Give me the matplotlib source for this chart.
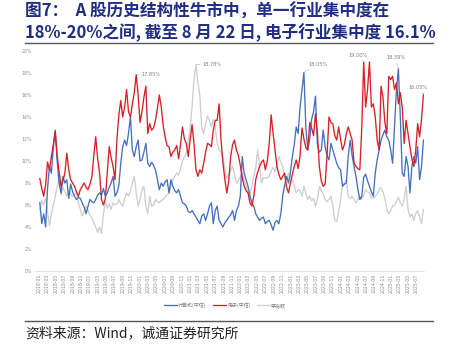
import matplotlib
matplotlib.use("Agg")
import matplotlib.pyplot as plt
import pandas as pd
import numpy as np

CJK = ['Noto Sans CJK SC', 'DejaVu Sans']

# biweekly observations, 2018-01-05 .. 2025-08-22
dates = pd.date_range(end='2025-08-22', periods=200, freq='2W-FRI')

computer = [
    6.2, 4.3, 5.2, 4.0, 7.5, 9.5, 8.9, 11.2, 12.8, 10.0,
    8.0, 7.1, 8.6, 8.0, 8.3, 6.6, 7.9, 7.2, 6.8, 6.5,
    6.7, 6.6, 6.2, 5.8, 5.2, 5.9, 6.5, 6.3, 6.2, 6.5,
    6.9, 7.1, 6.9, 7.5, 6.8, 7.1, 7.6, 8.0, 8.6, 6.8,
    7.1, 7.8, 9.8, 11.3, 11.9, 11.4, 12.5, 14.0, 11.0, 10.4,
    11.3, 11.9, 10.0, 10.1, 10.8, 11.6, 9.8,
    9.5, 9.9, 9.6, 9.2, 8.3, 7.4, 8.0, 7.7, 8.1, 8.3,
    7.1, 8.3, 7.7, 7.3, 7.1, 7.4, 6.8, 6.2, 6.1, 5.9,
    5.4, 5.3, 5.5, 5.2, 4.9, 4.6, 4.3, 5.0, 5.2, 4.6,
    5.2, 5.9, 6.2, 4.3, 5.5, 5.9, 4.6, 4.3, 4.0, 4.4,
    4.6, 4.9, 5.1, 5.5, 4.6, 5.5, 5.9, 6.8, 10.4, 8.9,
    8.3, 7.7, 6.8, 6.2, 5.9, 5.2, 4.9, 4.6, 4.8, 4.9,
    4.3, 4.5, 4.6, 4.2, 3.7, 4.4, 4.6, 4.3, 5.2, 6.8,
    7.8, 8.6, 8.0, 9.0, 10.4, 11.5, 13.1, 12.5,
    14.9, 16.5, 18.05, 13.0, 11.0, 12.0, 13.8, 14.5, 15.9, 11.5,
    10.8, 11.0, 12.8, 11.3, 10.5, 10.1, 11.6, 11.0, 10.4, 9.8,
    9.4, 9.2, 7.7, 7.9, 8.0, 10.5, 11.9, 10.5, 9.5, 8.6,
    7.4, 6.5, 6.8, 8.5, 8.8, 8.2, 7.7, 7.2, 6.8, 8.9,
    10.1, 11.0, 11.9, 12.4, 12.8, 12.2, 11.9, 11.0, 9.8, 13.1,
    16.5, 18.39, 14.0, 8.9, 8.6, 10.4, 9.5, 7.1, 9.5, 10.4,
    9.8, 11.3, 8.3, 9.5, 11.9,
]

electronics = [
    8.4, 7.5, 6.8, 7.8, 9.9, 9.2, 10.4, 11.5, 12.7, 10.5,
    9.0, 7.7, 8.2, 8.9, 10.7, 9.2, 8.3, 8.0, 7.7, 7.2,
    6.8, 7.4, 7.7, 8.0, 7.6, 7.4, 7.9, 8.5, 10.5, 12.2,
    10.2, 8.9, 6.5, 6.0, 6.6, 9.0, 11.3, 10.3, 9.5, 8.3,
    12.0, 14.2, 15.5, 14.0, 14.9, 16.5, 14.5, 14.0, 15.2, 16.2,
    17.85, 16.0, 13.5, 14.5, 15.8, 16.8, 12.5,
    13.4, 12.8, 13.0, 13.7, 14.8, 16.0, 14.9, 13.2, 12.2, 11.4,
    11.3, 10.4, 10.8, 11.0, 11.4, 10.2, 11.5, 13.1, 12.0, 11.6,
    10.4, 12.0, 13.3, 11.5, 9.2, 8.6, 9.2, 8.9, 9.8, 10.8,
    11.6, 11.5, 11.3, 12.8, 13.7, 13.7, 15.2, 11.9, 9.8, 8.3,
    7.1, 8.2, 10.4, 11.5, 11.9, 11.0, 10.5, 9.6, 8.5, 7.7,
    7.3, 7.1, 6.2, 5.9, 6.8, 8.3, 9.0, 9.5, 9.9, 10.1,
    9.2, 10.0, 11.6, 14.2, 12.5, 11.0, 9.5, 8.8, 8.3, 8.6,
    8.9, 7.6, 7.1, 8.0, 8.8, 9.5, 10.1, 9.3,
    10.5, 13.0, 12.0, 11.2, 11.0, 13.5, 13.0, 12.3, 14.3, 12.5,
    9.5, 8.2, 7.7, 7.9, 10.5, 14.0, 13.5, 13.4, 12.3, 11.9,
    13.1, 12.0, 11.0, 11.5, 12.5, 13.1, 12.5, 11.9, 9.8, 9.5,
    9.3, 9.2, 13.0, 19.0, 14.9, 16.5, 19.0, 14.9, 15.2, 14.0,
    11.9, 11.0, 16.8, 15.8, 13.5, 12.5, 17.7, 17.4, 17.7, 16.5,
    17.1, 15.2, 16.2, 14.9, 11.6, 13.7, 12.5, 11.3, 10.2, 9.5,
    11.0, 13.4, 12.2, 13.8, 16.05,
]

maotai = [
    5.5, 6.4, 6.0, 6.6, 5.4, 4.1, 5.2, 6.0, 6.8, 7.6,
    8.3, 6.9, 7.6, 7.2, 6.8, 7.3, 7.0, 6.8, 7.0, 7.1,
    6.2, 5.6, 5.0, 5.4, 5.9, 5.5, 5.1, 4.8, 4.4, 4.0,
    3.5, 4.0, 3.4, 5.2, 6.3, 5.7, 6.1, 5.6, 6.2, 6.0,
    6.1, 6.5, 6.1, 5.9, 6.6, 7.1, 6.8, 7.3, 8.0, 8.6,
    7.1, 5.9, 6.5, 7.4, 7.7, 5.9, 5.2,
    6.8, 5.9, 6.0, 6.5, 6.3, 6.2, 6.4, 6.5, 6.7, 6.9,
    7.1, 7.6, 8.3, 8.6, 8.9, 8.7, 9.3, 10.0, 10.4, 10.7,
    11.7, 13.0, 15.0, 17.5, 18.78, 17.1, 16.0, 13.0, 12.5, 13.4,
    14.1, 13.7, 13.1, 13.8, 13.0, 11.7, 11.0, 10.8, 10.4, 9.3,
    8.4, 8.8, 9.1, 9.5, 8.8, 8.0, 8.2, 8.6, 8.9, 8.3,
    7.7, 7.2, 6.9, 7.8, 8.6, 9.4, 11.0, 9.5, 8.0, 8.5,
    8.4, 8.5, 8.6, 9.1, 9.4, 9.0, 9.6, 10.4, 9.9, 9.5,
    8.5, 8.3, 8.9, 8.6, 8.3, 7.7, 7.1, 7.4,
    7.3, 6.8, 7.7, 7.1, 6.5, 6.8, 6.4, 6.6, 5.9, 6.5,
    7.7, 7.3, 7.0, 6.5, 6.3, 6.5, 6.8, 5.9, 4.6, 4.5,
    5.4, 6.5, 7.7, 8.0, 8.3, 6.8, 6.6, 6.8, 6.5, 6.2,
    6.5, 6.8, 6.5, 6.9, 7.4, 7.2, 7.1, 6.7, 6.6, 6.8,
    7.0, 7.4, 7.6, 7.2, 6.6, 5.6, 5.2, 5.5, 5.9, 6.0,
    6.3, 6.7, 6.2, 5.9, 6.5, 7.7, 5.6, 4.9, 5.2, 4.6,
    5.2, 5.5, 4.9, 4.3, 5.6,
]

series_names = ['计算机(中信)', '电子(中信)', '茅指数']
series_colors = ['#4470c0', '#d61f26', '#cfcfcf']

# (series index, observation index) of labelled points
labelled = [(1, 50), (2, 81), (0, 137), (1, 168), (0, 186), (1, 199)]
label_offsets = [(4, 0), (5, 0), (3, 6), (-4, 5), (-2, 8), (-4, 5)]

fig = plt.figure(figsize=(4.5, 3.48), dpi=100)
ax = fig.add_axes([35 / 450, 1 - 271 / 348, 389 / 450, 220 / 348])

all_series = [computer, electronics, maotai]
for vals, name, col in zip(all_series, series_names, series_colors):
    ax.plot(dates, np.array(vals) / 100, color=col, lw=0.95, label=name,
            zorder=3 if col != '#cfcfcf' else 2)

for (si, oi), off in zip(labelled, label_offsets):
    v = all_series[si][oi]
    ax.annotate(f'{v:.2f}%', xy=(dates[oi], v / 100), xytext=off,
                textcoords='offset points', fontsize=3.6, color='#7f7f7f',
                ha='left' if off[0] > 0 else 'center', va='center',
                arrowprops=dict(arrowstyle='-', color='#a0a0a0', lw=0.3,
                                shrinkA=0, shrinkB=0))

ax.set_ylim(0, 0.20)
ax.set_yticks(np.arange(0, 0.201, 0.02))
ax.set_yticklabels([f'{int(round(t * 100))}%' for t in np.arange(0, 0.201, 0.02)])
ax.set_xlim(pd.Timestamp('2017-12-01'), pd.Timestamp('2025-08-26'))
ticks = pd.date_range('2018-01-01', '2025-07-01', freq='2MS')
ax.set_xticks(ticks)
ax.set_xticklabels([t.strftime('%Y-%m') for t in ticks], rotation=90)
ax.tick_params(axis='both', length=0, labelsize=3.3, labelcolor='#8c8c8c', pad=2)
for s in ['top', 'right', 'left']:
    ax.spines[s].set_visible(False)
ax.spines['bottom'].set_color('#d9d9d9')
ax.spines['bottom'].set_linewidth(0.5)

fig.legend(loc='center', bbox_to_anchor=(0.5, 1 - 305 / 348), ncol=3,
           frameon=False, prop={'family': CJK, 'size': 3.6},
           handlelength=2.6, columnspacing=1.2, handletextpad=0.3,
           labelcolor='#7f7f7f')

title_col = '#1f2d84'
fig.text(25 / 450, 1 - 12 / 348, '图7：  A 股历史结构性牛市中，单一行业集中度在',
         family=CJK, fontsize=12, fontweight='bold', color=title_col, va='center')
fig.text(25 / 450, 1 - 33 / 348, '18%-20%之间, 截至 8 月 22 日, 电子行业集中度 16.1%',
         family=CJK, fontsize=12, fontweight='bold', color=title_col, va='center')
fig.add_artist(plt.Line2D([25 / 450, 433 / 450], [1 - 43 / 348] * 2, color='#555555', lw=1.0))
fig.add_artist(plt.Line2D([25 / 450, 433 / 450], [1 - 320.5 / 348] * 2, color='#555555', lw=1.0))
fig.text(25 / 450, 1 - 333 / 348, '资料来源：Wind，诚通证券研究所',
         family=CJK, fontsize=10, color='#222222', va='center')

fig.savefig('out.png', dpi=100)
